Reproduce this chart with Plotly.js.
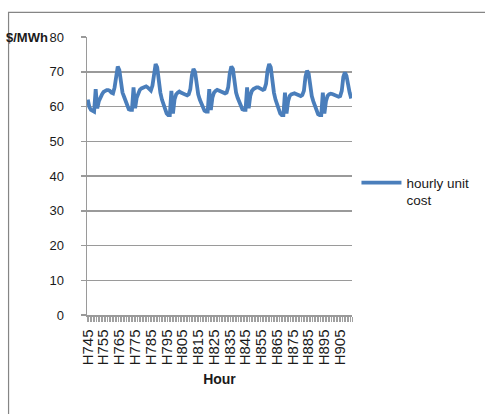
<!DOCTYPE html>
<html>
<head>
<meta charset="utf-8">
<script src="https://cdn.plot.ly/plotly-3.0.1.min.js"></script>
<style>
  html, body { margin: 0; padding: 0; background: #ffffff; }
  #chart { width: 485px; height: 414px; }
</style>
</head>
<body>
<div id="chart"></div>
<script>
// Hour labels H745 ... H912 (one week of hourly prices)
const firstHour = 745;
const lastHour = 912;
const hours = [];
for (let h = firstHour; h <= lastHour; h++) hours.push('H' + h);

// Hourly unit cost, $/MWh, one array per day (24 hours each)
const day1 = [62.0, 59.8, 59.0, 58.7, 58.5, 65.0, 59.5, 61.5, 62.8, 63.5, 64.2, 64.5, 64.7, 64.7, 64.5, 64.0, 63.8, 65.5, 69.5, 71.5, 70.5, 66.0, 64.0, 62.8];
const day2 = [61.5, 60.0, 59.2, 59.0, 59.0, 65.5, 59.5, 62.5, 64.0, 64.8, 65.2, 65.5, 65.6, 65.8, 65.5, 65.0, 64.6, 66.0, 70.0, 72.2, 71.3, 66.5, 64.0, 62.0];
const day3 = [60.5, 59.0, 58.0, 57.5, 57.5, 64.5, 58.0, 62.0, 63.5, 64.0, 64.3, 64.0, 63.8, 63.5, 63.5, 63.2, 63.5, 65.0, 69.0, 70.8, 70.0, 65.5, 63.5, 62.0];
const day4 = [61.0, 59.5, 58.8, 58.5, 58.5, 65.0, 59.0, 62.5, 64.0, 64.5, 64.8, 64.6, 64.4, 64.2, 64.0, 63.8, 64.0, 65.5, 69.5, 71.5, 70.8, 66.0, 64.0, 62.5];
const day5 = [61.5, 60.0, 59.2, 59.0, 59.0, 65.5, 59.5, 63.0, 64.5, 65.0, 65.3, 65.5, 65.5, 65.2, 65.0, 64.8, 65.0, 66.5, 70.5, 72.2, 71.3, 66.5, 64.0, 62.0];
const day6 = [60.5, 58.8, 58.0, 57.5, 57.5, 64.0, 58.0, 61.5, 63.0, 63.5, 63.8, 63.8, 63.6, 63.4, 63.2, 63.0, 63.3, 64.5, 68.5, 70.3, 69.5, 65.5, 63.0, 61.5];
const day7 = [60.0, 58.5, 57.8, 57.5, 57.5, 64.0, 58.0, 61.5, 63.0, 63.5, 63.7, 63.6, 63.4, 63.0, 62.8, 62.8, 63.0, 64.5, 68.5, 69.8, 68.8, 66.0, 64.0, 62.3];

const unitCost = [].concat(day1, day2, day3, day4, day5, day6, day7);

// Every tenth hour carries a label, every hour gets a tick mark
const tickText = hours.map((h, i) => (i % 10 === 0 ? h : ''));

const FONT = 'Liberation Sans, Arial, Helvetica, sans-serif';
const INK = '#1a1a1a';
const GRID = '#9a9a9a';

const traces = [{
  x: hours,
  y: unitCost,
  type: 'scatter',
  mode: 'lines',
  name: 'hourly unit<br>cost',
  line: { color: '#4A7EBB', width: 3.8 },
  hoverinfo: 'x+y'
}];

const layout = {
  width: 485,
  height: 414,
  margin: { l: 87, r: 132, t: 37, b: 99, pad: 0 },
  paper_bgcolor: '#ffffff',
  plot_bgcolor: '#ffffff',
  font: { family: FONT, color: INK, size: 13 },
  showlegend: true,
  legend: {
    x: 1.013, xanchor: 'left',
    y: 0.531, yanchor: 'top',
    valign: 'top',
    font: { family: FONT, size: 13.5, color: INK },
    itemwidth: 40,
    bgcolor: 'rgba(0,0,0,0)',
    tracegroupgap: 0
  },
  xaxis: {
    type: 'category',
    categoryorder: 'array',
    categoryarray: hours,
    range: [-0.5, hours.length - 0.5],
    tickmode: 'array',
    tickvals: hours,
    ticktext: tickText,
    tickson: 'boundaries',
    ticks: 'outside',
    ticklen: 5,
    tickwidth: 1,
    tickcolor: '#a0a0a0',
    tickangle: -90,
    ticklabelstandoff: 7,
    tickfont: { family: FONT, size: 15, color: INK },
    showline: true,
    linecolor: GRID,
    linewidth: 1.5,
    showgrid: false,
    zeroline: false,
    fixedrange: true,
    title: {
      text: 'Hour',
      font: { family: FONT, size: 14, color: INK, weight: 700 },
      standoff: 10
    }
  },
  yaxis: {
    range: [0, 80],
    tickmode: 'linear',
    tick0: 0,
    dtick: 10,
    ticks: 'outside',
    ticklen: 5,
    tickwidth: 1.5,
    tickcolor: GRID,
    ticklabelstandoff: 14,
    tickfont: { family: FONT, size: 13, color: INK },
    showline: true,
    linecolor: GRID,
    linewidth: 1.5,
    showgrid: true,
    gridcolor: GRID,
    gridwidth: 1.5,
    zeroline: false,
    fixedrange: true
  },
  annotations: [{
    text: '$/MWh',
    xref: 'paper', yref: 'paper',
    x: -0.138, xanchor: 'right',
    y: 1.0, yanchor: 'middle',
    showarrow: false,
    font: { family: FONT, size: 13, color: INK, weight: 700 }
  }],
  shapes: [{
    type: 'rect',
    xref: 'paper', yref: 'paper',
    x0: -0.296, x1: 1.7,
    y0: -0.5, y1: 1.0887,
    line: { color: '#858585', width: 1.2 },
    fillcolor: 'rgba(0,0,0,0)',
    layer: 'below'
  }]
};

Plotly.newPlot('chart', traces, layout, { displayModeBar: false, staticPlot: true });
</script>
</body>
</html>
